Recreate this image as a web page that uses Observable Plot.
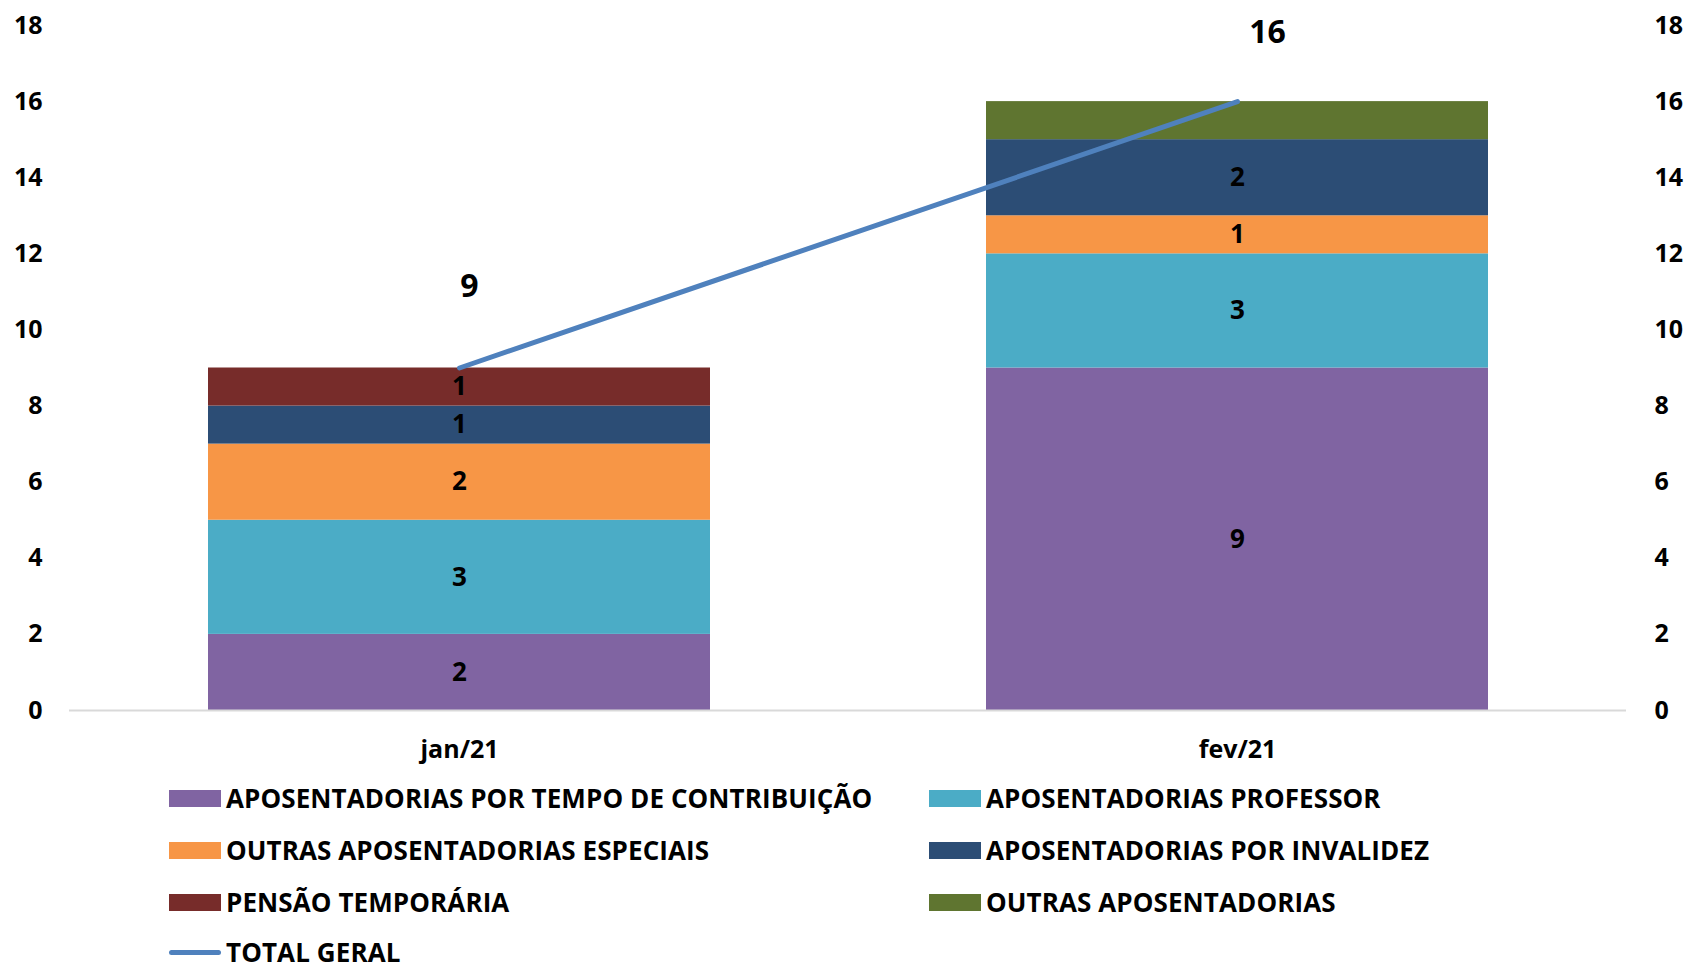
<!DOCTYPE html>
<html>
<head>
<meta charset="utf-8">
<script src="https://cdn.jsdelivr.net/npm/d3@7"></script>
<script src="https://cdn.jsdelivr.net/npm/@observablehq/plot@0.6"></script>
<style>
  html, body { margin: 0; padding: 0; background: #fff; }
  body { width: 1690px; height: 967px; overflow: hidden; font-family: "Open Sans", sans-serif; font-weight: 700; }
  #chart svg { display: block; }
  #legend { position: relative; height: 187px; }
  .item { position: absolute; display: flex; align-items: center; height: 26px; line-height: 26px; font-size: 26px; letter-spacing: 0.1px; color: #000; white-space: nowrap; }
  .item .tx { display: inline-block; line-height: 26px; height: 26px; }
  .sw { width: 52px; height: 17px; margin-right: 5px; flex: none; }
  .ln { width: 52px; height: 5px; border-radius: 3px; margin-right: 5px; flex: none; }
</style>
</head>
<body>
<div id="chart"></div>
<div id="legend"></div>
<script>
const months = ["jan/21", "fev/21"];
const series = [
  "APOSENTADORIAS POR TEMPO DE CONTRIBUIÇÃO",
  "APOSENTADORIAS PROFESSOR",
  "OUTRAS APOSENTADORIAS ESPECIAIS",
  "APOSENTADORIAS POR INVALIDEZ",
  "PENSÃO TEMPORÁRIA",
  "OUTRAS APOSENTADORIAS"
];
const colors = ["#8064a2", "#4bacc6", "#f79646", "#2c4d75", "#772c2a", "#5f7530"];
const janValues = [2, 3, 2, 1, 1, 0];
const fevValues = [9, 3, 1, 2, 0, 1];
const totals = [9, 16];
const totalName = "TOTAL GERAL";
const lineColor = "#4f81bd";
const yTicks = [0, 2, 4, 6, 8, 10, 12, 14, 16, 18];
// labels not shown in the original (month, series)
const hiddenLabels = [["fev/21", "OUTRAS APOSENTADORIAS"]];

// build stacked rows
const rows = [];
[janValues, fevValues].forEach((vals, mi) => {
  let acc = 0;
  vals.forEach((v, si) => {
    if (v > 0) {
      rows.push({month: months[mi], series: series[si], value: v, y1: acc, y2: acc + v, mid: acc + v / 2});
    }
    acc += v;
  });
});
const labelRows = rows.filter(r => !hiddenLabels.some(([m, s]) => m === r.month && s === r.series));
const totalRows = months.map((m, i) => ({month: m, total: totals[i]}));

const chart = Plot.plot({
  width: 1690,
  height: 780,
  marginLeft: 69,
  marginRight: 64,
  marginTop: 25,
  marginBottom: 70,
  style: {fontFamily: "'Open Sans', sans-serif", fontWeight: 700, fontSize: "25px", color: "#000", background: "#fff", overflow: "visible"},
  x: {domain: months, paddingInner: 0.355, paddingOuter: 0.1775, label: null},
  y: {domain: [0, 18], label: null},
  color: {domain: series, range: colors},
  marks: [
    Plot.barY(rows, {x: "month", y1: "y1", y2: "y2", fill: "series"}),
    Plot.ruleY([0], {stroke: "#d9d9d9", strokeWidth: 2}),
    Plot.text(labelRows, {x: "month", y: "mid", text: d => String(d.value), fill: "#000", fontSize: 26, fontWeight: 700}),
    Plot.line(totalRows, {x: "month", y: "total", stroke: lineColor, strokeWidth: 5, strokeLinecap: "round"}),
    Plot.text(totalRows.filter(d => d.month === "jan/21"), {x: "month", y: "total", text: d => String(d.total), dx: 10, dy: -81, fontSize: 32, fontWeight: 700, fill: "#000"}),
    Plot.text(totalRows.filter(d => d.month === "fev/21"), {x: "month", y: "total", text: d => String(d.total), dx: 30, dy: -69, fontSize: 32, fontWeight: 700, fill: "#000"}),
    Plot.axisY({anchor: "left", ticks: yTicks, tickSize: 0, tickPadding: 27, label: null}),
    Plot.axisY({anchor: "right", ticks: yTicks, tickSize: 0, tickPadding: 28, label: null}),
    Plot.axisX({anchor: "bottom", tickSize: 0, tickPadding: 30, label: null})
  ]
});
document.getElementById("chart").appendChild(chart);

// legend
const legend = document.getElementById("legend");
const colX = [169, 929];
const rowY = [18, 70, 122, 172];
series.forEach((s, i) => {
  const el = document.createElement("div");
  el.className = "item";
  el.style.left = colX[i % 2] + "px";
  el.style.top = (rowY[Math.floor(i / 2)] - 13) + "px";
  el.innerHTML = `<span class="sw" style="background:${colors[i]}"></span><span class="tx">${s}</span>`;
  legend.appendChild(el);
});
const tl = document.createElement("div");
tl.className = "item";
tl.style.left = colX[0] + "px";
tl.style.top = (rowY[3] - 13) + "px";
tl.innerHTML = `<span class="ln" style="background:${lineColor}"></span><span class="tx">${totalName}</span>`;
legend.appendChild(tl);
</script>
</body>
</html>
